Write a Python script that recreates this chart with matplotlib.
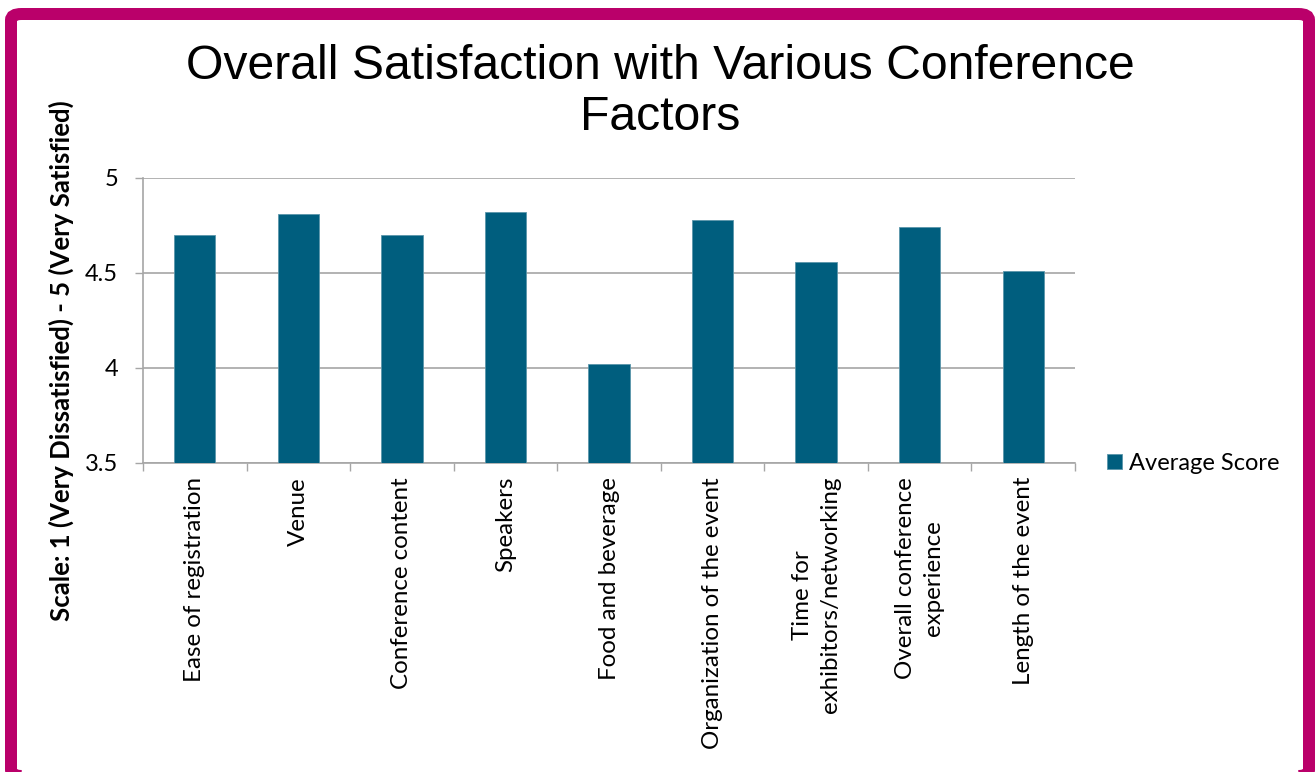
import matplotlib
matplotlib.use("Agg")
import matplotlib.pyplot as plt
from matplotlib.patches import FancyBboxPatch

categories = ["Ease of registration", "Venue", "Conference content", "Speakers",
              "Food and beverage", "Organization of the event",
              "Time for\nexhibitors/networking", "Overall conference\nexperience",
              "Length of the event"]
scores = [4.70, 4.81, 4.70, 4.82, 4.02, 4.78, 4.56, 4.74, 4.51]
yticks = [3.5, 4, 4.5, 5]
ytick_labels = ["3.5", "4", "4.5", "5"]

W, H = 1315, 772
fig = plt.figure(figsize=(W / 100, H / 100), dpi=100)
fig.patch.set_facecolor("white")

# border (center line of a 12px stroke)
x0, y0, x1, y1 = 11, 14, 1309, 776
border = FancyBboxPatch((x0 / W, 1 - y1 / H), (x1 - x0) / W, (y1 - y0) / H,
                        boxstyle="round,pad=0,rounding_size=0.008",
                        transform=fig.transFigure, fill=False, clip_on=False,
                        edgecolor="#BA006A", linewidth=8.64, zorder=0)
fig.patches.append(border)

FONT = "Lato"
ax = fig.add_axes([143 / W, 1 - 463 / H, (1075 - 143) / W, (463 - 178) / H])
x = list(range(len(categories)))
ax.bar(x, [s - 3.5 for s in scores], bottom=3.5, width=0.4, color="#005E7E",
       edgecolor="#5A96AA", linewidth=0.6, label="Average Score", zorder=3)
ax.set_ylim(3.5, 5)
ax.set_xlim(-0.5, len(categories) - 0.5)
ax.set_yticks(yticks)
ax.set_yticklabels(ytick_labels, fontsize=17, family=FONT)
ax.yaxis.grid(True, color="#A6A6A6", linewidth=1.2, zorder=0)
ax.tick_params(axis="y", length=6, color="#A6A6A6", width=1, pad=12)
ax.set_xticks(x)
ax.set_xticklabels(categories, rotation=90, fontsize=17.4, family=FONT,
                   ha="center", va="top", multialignment="center", linespacing=1.4)
ax.tick_params(axis="x", length=0, pad=10)
ax.set_xticks([i + 0.5 for i in range(-1, len(categories))], minor=True)
ax.tick_params(axis="x", which="minor", length=6, color="#A6A6A6", width=1)
for s in ["top", "right"]:
    ax.spines[s].set_visible(False)
for s in ["left", "bottom"]:
    ax.spines[s].set_color("#A6A6A6")
    ax.spines[s].set_linewidth(1.2)
ax.set_ylabel("Scale: 1 (Very Dissatisfied) - 5 (Very Satisfied)", fontsize=18.5,
              fontweight="bold", family=FONT)
ax.yaxis.set_label_coords(-0.074, 0.36)

fig.text(660 / W, 1 - 92 / H, "Overall Satisfaction with Various Conference\nFactors",
         ha="center", va="center", fontsize=34.7, family="Liberation Sans", linespacing=1.18)

leg = ax.legend(loc="center left", bbox_to_anchor=(1.012, 0.0), frameon=False,
                prop={"family": FONT, "size": 17}, handlelength=0.6,
                handleheight=0.6, handletextpad=0.3)

fig.savefig("out.png", dpi=100)
